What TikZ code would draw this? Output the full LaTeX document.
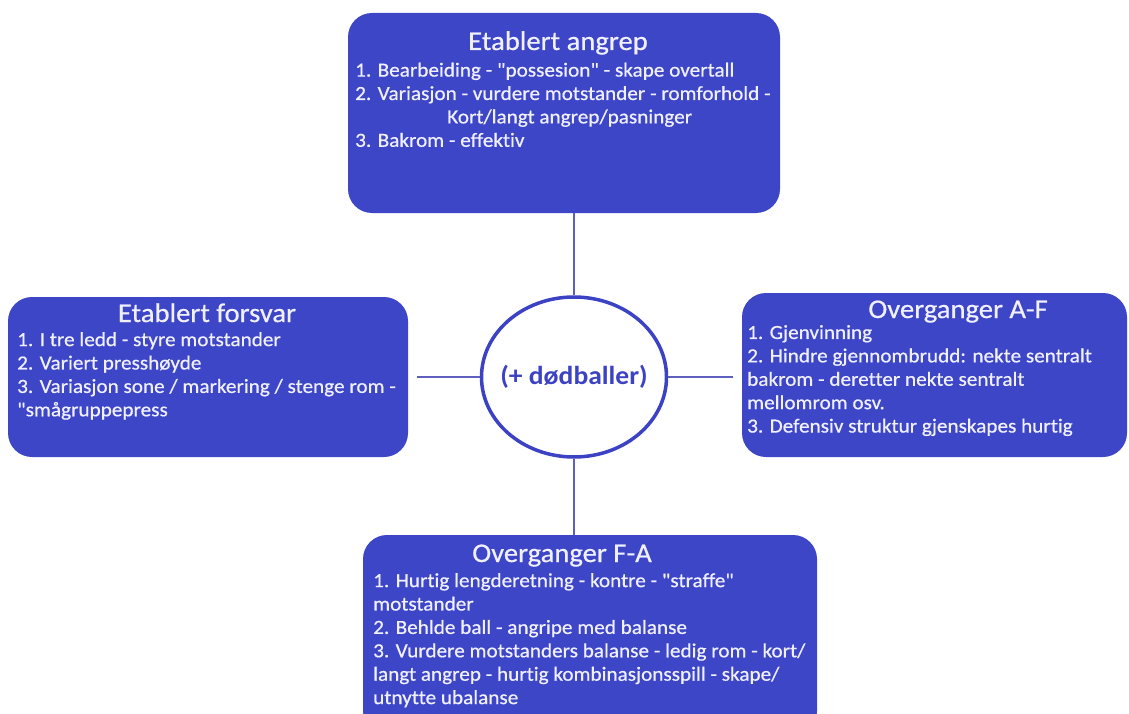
\documentclass[tikz,border=0pt]{standalone}
\usepackage{fontspec}
\setmainfont{Carlito}[FakeStretch=1.06,Ligatures={TeXOff,NoCommon}]
\newfontfamily\boxfont{Carlito}[FakeStretch=1.06,FakeBold=0.6,Ligatures={TeXOff,NoCommon}]
\usepackage{xcolor}
\usetikzlibrary{shapes.geometric}
\definecolor{boxblue}{RGB}{62,70,200}
\definecolor{txtwhite}{RGB}{240,240,255}
\definecolor{linkblue}{RGB}{95,95,190}
\definecolor{ringblue}{RGB}{60,66,196}

\begin{document}
\begin{tikzpicture}[x=1pt,y=-1pt,
  box/.style={fill=boxblue,rounded corners=24pt,inner sep=0pt},
  boxtitle/.style={text=txtwhite,font=\boxfont\fontsize{27}{30}\selectfont,inner sep=0pt,anchor=base},
  boxbody/.style={text=txtwhite,font=\boxfont\fontsize{20}{23.4}\selectfont,inner sep=0pt,anchor=north west,align=left},
  link/.style={draw=linkblue,line width=1.5pt}]
\useasboundingbox (0,0) rectangle (1129,714);
\fill[white] (0,0) rectangle (1129,714);
% boxes
\node[box,minimum width=432pt,minimum height=200pt] (angrep) at (564,113) {};
\node[box,minimum width=400pt,minimum height=160pt] (forsvar) at (208,377) {};
\node[box,minimum width=385pt,minimum height=164pt] (overgAF) at (934.5,375) {};
\node[box,minimum width=454pt,minimum height=200pt] (overgFA) at (590,635) {};
\node[ellipse,draw=ringblue,line width=3.5pt,fill=white,inner sep=0pt,
  minimum width=185pt,minimum height=160pt] (midt) at (574,377) {};
\node[text=ringblue,font=\fontsize{26}{30}\selectfont\bfseries,inner sep=0pt] (midtT) at (midt.center) {(+ dødballer)};
% connectors
\draw[link] (midt.north) -- (midt.north |- angrep.south);
\draw[link] (midt.south) -- (midt.south |- overgFA.north);
\draw[link] (midt.west) -- ([xshift=9pt]forsvar.east |- midt.west);
\draw[link] (midt.east) -- ([xshift=-9pt]overgAF.west |- midt.east);
% texts
\node[boxtitle] (angrepT) at (558,50) {Etablert angrep};
\node[boxbody] (angrepB) at (355,62.5) {1. Bearbeiding - "possesion" - skape overtall\\
2. Variasjon - vurdere motstander - romforhold -\\
\hspace*{92pt}Kort/langt angrep/pasninger\\
3. Bakrom - effektiv};
\node[boxtitle] (forsvarT) at (207,322) {Etablert forsvar};
\node[boxbody] (forsvarB) at (17,332) {1. I tre ledd - styre motstander\\
2. Variert presshøyde\\
3. Variasjon sone / markering / stenge rom -\\
"smågruppepress};
\node[boxtitle] (overgAFT) at (958,318) {Overganger A-F};
\node[boxbody] (overgAFB) at (747,325) {1. Gjenvinning\\
2. Hindre gjennombrudd: nekte sentralt\\
bakrom - deretter nekte sentralt\\
mellomrom osv.\\
3. Defensiv struktur gjenskapes hurtig};
\node[boxtitle] (overgFAT) at (562,562) {Overganger F-A};
\node[boxbody] (overgFAB) at (373,573) {1. Hurtig lengderetning - kontre - "straffe"\\
motstander\\
2. Behlde ball - angripe med balanse\\
3. Vurdere motstanders balanse - ledig rom - kort/\\
langt angrep - hurtig kombinasjonsspill - skape/\\
utnytte ubalanse};
\end{tikzpicture}
\end{document}
